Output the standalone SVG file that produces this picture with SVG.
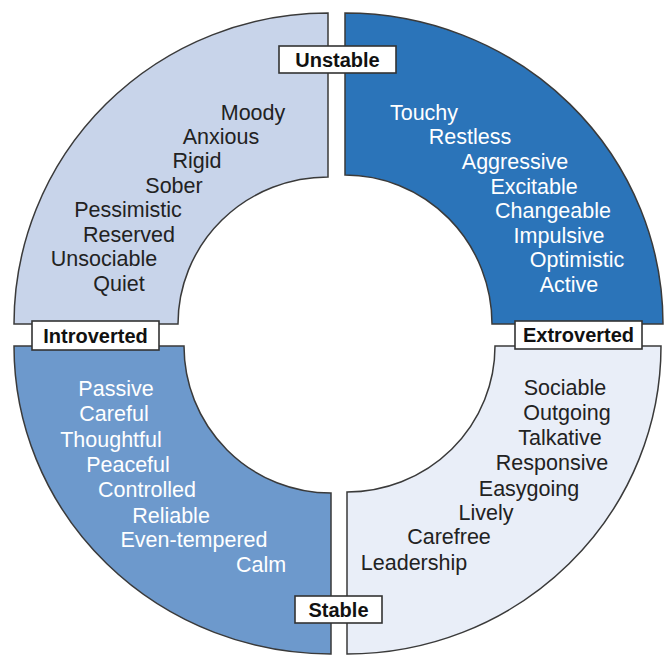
<svg xmlns="http://www.w3.org/2000/svg" width="665" height="656" viewBox="0 0 665 656">
<style>
.q{stroke:#3a3a3a;stroke-width:1.5}
.t{font-family:"Liberation Sans",Arial,sans-serif;font-size:21.5px;text-anchor:middle}
.dk{fill:#222}
.lt{fill:#ffffff}
.box{fill:#ffffff;stroke:#333;stroke-width:1.6}
.lbl{font-family:"Liberation Sans",Arial,sans-serif;font-size:20px;font-weight:bold;text-anchor:middle;fill:#111}
</style>
<rect width="665" height="656" fill="#ffffff"/>
<g id="unstable-introverted">
<path class="q" fill="#c8d4ea" d="M 14 324 A 314 311 0 0 1 328 13 L 328 177 A 150 147 0 0 0 178 324 Z"/>
<g class="t dk">
<text x="253" y="119.5">Moody</text>
<text x="221" y="143.5">Anxious</text>
<text x="197" y="167.5">Rigid</text>
<text x="174" y="192.5">Sober</text>
<text x="128" y="216.5">Pessimistic</text>
<text x="129" y="241.5">Reserved</text>
<text x="104" y="265.5">Unsociable</text>
<text x="119" y="290.5">Quiet</text>
</g>
</g>
<g id="unstable-extroverted">
<path class="q" fill="#2b74b9" d="M 345 13 A 318 311 0 0 1 663 324 L 492 324 A 147 149 0 0 0 345 175 Z"/>
<g class="t lt">
<text x="424" y="119.5">Touchy</text>
<text x="470" y="143.5">Restless</text>
<text x="515" y="168.5">Aggressive</text>
<text x="534" y="193.5">Excitable</text>
<text x="553" y="217.5">Changeable</text>
<text x="559" y="242.5">Impulsive</text>
<text x="577" y="266.5">Optimistic</text>
<text x="569" y="291.5">Active</text>
</g>
</g>
<g id="stable-introverted">
<path class="q" fill="#6d99cc" d="M 14 346 A 317 308 0 0 0 331 654 L 331 493 A 147 147 0 0 1 184 346 Z"/>
<g class="t lt">
<text x="116" y="395.5">Passive</text>
<text x="114" y="420.5">Careful</text>
<text x="111" y="446.5">Thoughtful</text>
<text x="128" y="471.5">Peaceful</text>
<text x="147" y="496.5">Controlled</text>
<text x="171" y="522.5">Reliable</text>
<text x="194" y="546.5">Even-tempered</text>
<text x="261" y="571.5">Calm</text>
</g>
</g>
<g id="stable-extroverted">
<path class="q" fill="#e9eef8" d="M 661 346 A 314 308 0 0 1 347 654 L 347 492 A 148 146 0 0 0 495 346 Z"/>
<g class="t dk">
<text x="565" y="394.5">Sociable</text>
<text x="567" y="419.5">Outgoing</text>
<text x="560" y="444.5">Talkative</text>
<text x="552" y="469.5">Responsive</text>
<text x="529" y="495.5">Easygoing</text>
<text x="486" y="519.5">Lively</text>
<text x="449" y="543.5">Carefree</text>
<text x="414" y="569.5">Leadership</text>
</g>
</g>
<g id="label-unstable">
<rect class="box" x="279" y="46" width="117" height="27"/>
<text class="lbl" x="337.5" y="66.5">Unstable</text>
</g>
<g id="label-introverted">
<rect class="box" x="32" y="321" width="127" height="29"/>
<text class="lbl" x="95.5" y="342.5">Introverted</text>
</g>
<g id="label-extroverted">
<rect class="box" x="515" y="321" width="127" height="28"/>
<text class="lbl" x="578.5" y="342">Extroverted</text>
</g>
<g id="label-stable">
<rect class="box" x="295" y="596" width="87" height="27"/>
<text class="lbl" x="338.5" y="616.5">Stable</text>
</g>
</svg>
